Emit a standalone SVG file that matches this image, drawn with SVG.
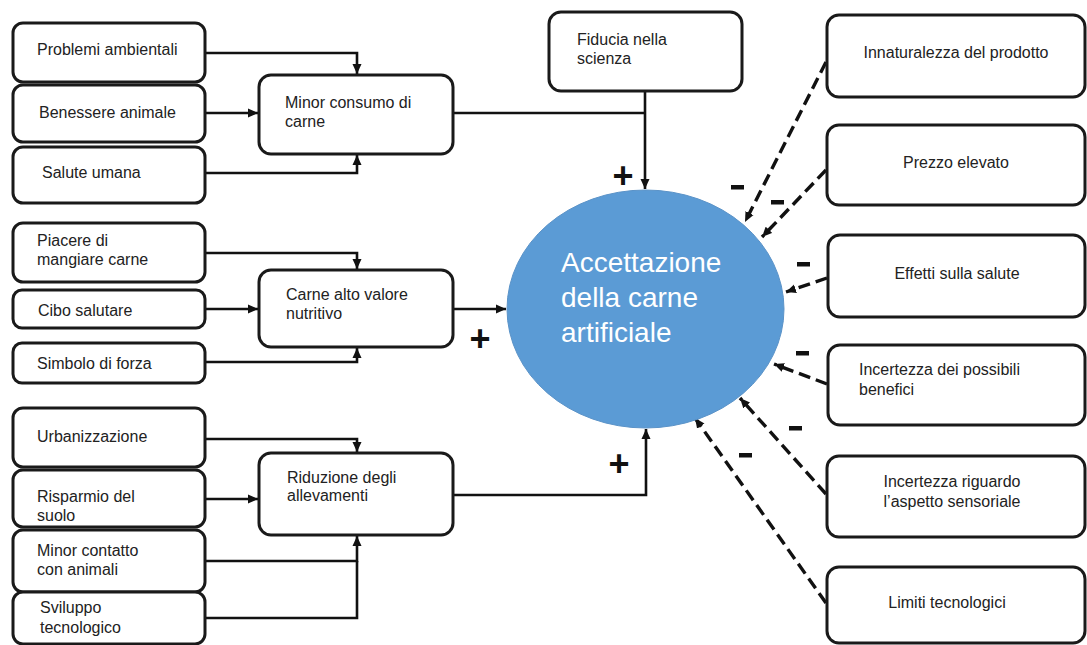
<svg xmlns="http://www.w3.org/2000/svg" width="1087" height="645" viewBox="0 0 1087 645">
<style>
.box{fill:#fff;stroke:#1a1a1a;stroke-width:3}
.t{font-family:"Liberation Sans",Arial,sans-serif;font-size:16px;fill:#222}
.c{text-anchor:middle}
.ln{fill:none;stroke:#111;stroke-width:2.6}
.ds{fill:none;stroke:#111;stroke-width:3.4;stroke-dasharray:12 6}
.sg{font-family:"Liberation Sans",Arial,sans-serif;font-size:36px;font-weight:bold;fill:#111;text-anchor:middle}
.mn{fill:#111}
.big{font-family:"Liberation Sans",Arial,sans-serif;font-size:28px;fill:#fff}
</style>
<defs>
<marker id="ah" markerUnits="userSpaceOnUse" markerWidth="11" markerHeight="10" refX="10" refY="5" orient="auto">
<path d="M0,0.5 L10,5 L0,9.5 z" fill="#111" stroke="none"/>
</marker>
</defs>
<rect width="1087" height="645" fill="#fff"/>

<g id="connectors">
<polyline class="ln" points="205,53 357,53 357,74" marker-end="url(#ah)"/>
<line class="ln" x1="205" y1="113" x2="258" y2="113" marker-end="url(#ah)"/>
<polyline class="ln" points="205,173 357,173 357,155" marker-end="url(#ah)"/>
<line class="ln" x1="453" y1="113" x2="645" y2="113"/>
<line class="ln" x1="645" y1="91" x2="645" y2="189" marker-end="url(#ah)"/>

<polyline class="ln" points="205,253 357,253 357,269" marker-end="url(#ah)"/>
<line class="ln" x1="205" y1="309" x2="258" y2="309" marker-end="url(#ah)"/>
<polyline class="ln" points="205,362 357,362 357,348" marker-end="url(#ah)"/>
<line class="ln" x1="453" y1="309" x2="506" y2="309" marker-end="url(#ah)"/>

<polyline class="ln" points="205,439 357,439 357,452" marker-end="url(#ah)"/>
<line class="ln" x1="205" y1="499" x2="258" y2="499" marker-end="url(#ah)"/>
<polyline class="ln" points="205,561 357,561 357,536" marker-end="url(#ah)"/>
<polyline class="ln" points="205,618 357,618 357,561"/>
<polyline class="ln" points="453,495 646,495 646,429" marker-end="url(#ah)"/>

<line class="ds" x1="826" y1="62" x2="745" y2="222" marker-end="url(#ah)"/>
<line class="ds" x1="826" y1="170" x2="762" y2="237" marker-end="url(#ah)"/>
<line class="ds" x1="827" y1="278" x2="786" y2="292" marker-end="url(#ah)"/>
<line class="ds" x1="827" y1="384" x2="774" y2="364" marker-end="url(#ah)"/>
<line class="ds" x1="826" y1="494" x2="740" y2="398" marker-end="url(#ah)"/>
<line class="ds" x1="826" y1="603" x2="695" y2="418" marker-end="url(#ah)"/>

<text class="sg" x="623" y="188">+</text>
<text class="sg" x="480" y="351">+</text>
<text class="sg" x="619" y="476">+</text>
<rect class="mn" x="731" y="185" width="13" height="4.5"/>
<rect class="mn" x="771" y="200" width="13" height="4.5"/>
<rect class="mn" x="797" y="262" width="13" height="4.5"/>
<rect class="mn" x="796" y="351" width="13" height="4.5"/>
<rect class="mn" x="789" y="426" width="13" height="4.5"/>
<rect class="mn" x="739" y="453" width="13" height="4.5"/>
</g>

<g id="problemi"><rect class="box" x="13" y="23" width="192" height="59" rx="10"/><text class="t" x="37" y="55">Problemi ambientali</text></g>
<g id="benessere"><rect class="box" x="13" y="85" width="192" height="57" rx="10"/><text class="t" x="39" y="118">Benessere animale</text></g>
<g id="salute"><rect class="box" x="13" y="147" width="192" height="56" rx="10"/><text class="t" x="42" y="178">Salute umana</text></g>
<g id="minor-consumo"><rect class="box" x="259" y="75" width="194" height="79" rx="12"/><text class="t" x="285" y="108">Minor consumo di</text><text class="t" x="285" y="127">carne</text></g>
<g id="fiducia"><rect class="box" x="549" y="12" width="193" height="79" rx="12"/><text class="t" x="577" y="45">Fiducia nella</text><text class="t" x="577" y="64">scienza</text></g>

<g id="piacere"><rect class="box" x="13" y="223" width="192" height="59" rx="10"/><text class="t" x="37" y="246">Piacere di</text><text class="t" x="37" y="265">mangiare carne</text></g>
<g id="cibo"><rect class="box" x="13" y="290" width="192" height="38" rx="9"/><text class="t" x="38" y="316">Cibo salutare</text></g>
<g id="simbolo"><rect class="box" x="13" y="343" width="192" height="40" rx="9"/><text class="t" x="37" y="369">Simbolo di forza</text></g>
<g id="carne-alto"><rect class="box" x="259" y="270" width="194" height="77" rx="12"/><text class="t" x="286" y="300">Carne alto valore</text><text class="t" x="286" y="319">nutritivo</text></g>

<g id="urbanizzazione"><rect class="box" x="13" y="408" width="192" height="59" rx="10"/><text class="t" x="37" y="442">Urbanizzazione</text></g>
<g id="risparmio"><rect class="box" x="13" y="470" width="192" height="57" rx="10"/><text class="t" x="37" y="502">Risparmio del</text><text class="t" x="37" y="521">suolo</text></g>
<g id="minor-contatto"><rect class="box" x="13" y="530" width="192" height="62" rx="10"/><text class="t" x="37" y="556">Minor contatto</text><text class="t" x="37" y="575">con animali</text></g>
<g id="sviluppo"><rect class="box" x="13" y="592" width="192" height="52" rx="10"/><text class="t" x="40" y="613">Sviluppo</text><text class="t" x="40" y="633">tecnologico</text></g>
<g id="riduzione"><rect class="box" x="259" y="453" width="194" height="82" rx="12"/><text class="t" x="287" y="483">Riduzione degli</text><text class="t" x="287" y="501">allevamenti</text></g>

<g id="accettazione"><ellipse cx="645.5" cy="309" rx="138.5" ry="119" fill="#5b9bd5" stroke="#5b93c8" stroke-width="1"/>
<text class="big" x="561" y="272">Accettazione</text><text class="big" x="561" y="307">della carne</text><text class="big" x="561" y="342">artificiale</text></g>

<g id="innaturalezza"><rect class="box" x="827" y="15" width="258" height="82" rx="12"/><text class="t c" x="956" y="58">Innaturalezza del prodotto</text></g>
<g id="prezzo"><rect class="box" x="827" y="125" width="258" height="80" rx="12"/><text class="t c" x="956" y="168">Prezzo elevato</text></g>
<g id="effetti"><rect class="box" x="828" y="235" width="257" height="82" rx="12"/><text class="t c" x="957" y="279">Effetti sulla salute</text></g>
<g id="incertezza-benefici"><rect class="box" x="828" y="345" width="257" height="80" rx="12"/><text class="t" x="859" y="375">Incertezza dei possibili</text><text class="t" x="859" y="395">benefici</text></g>
<g id="incertezza-sensoriale"><rect class="box" x="827" y="456" width="258" height="81" rx="12"/><text class="t c" x="952" y="487">Incertezza riguardo</text><text class="t c" x="952" y="507">l’aspetto sensoriale</text></g>
<g id="limiti"><rect class="box" x="827" y="567" width="258" height="76" rx="12"/><text class="t c" x="947" y="608">Limiti tecnologici</text></g>
</svg>
